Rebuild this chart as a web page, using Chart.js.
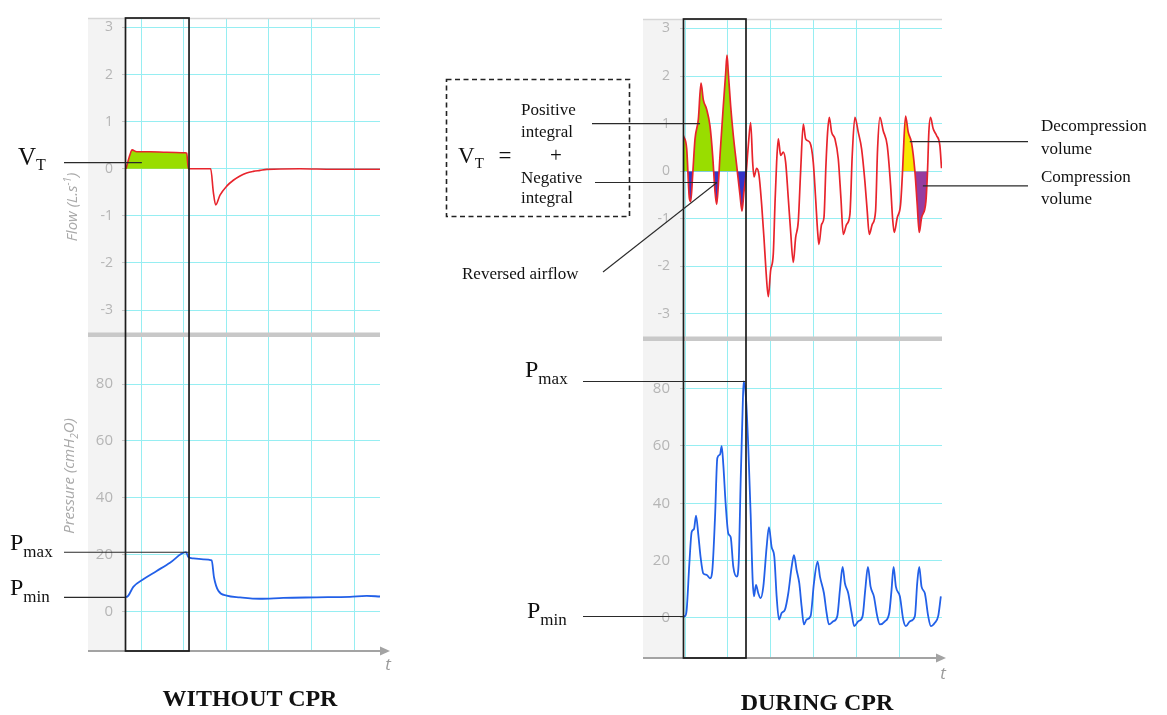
<!DOCTYPE html>
<html><head><meta charset="utf-8">
<script src="https://cdn.jsdelivr.net/npm/chart.js@4.4.0/dist/chart.umd.min.js"></script>
<style>
html,body{margin:0;padding:0;background:#fff;}
body{width:1167px;height:715px;position:relative;overflow:hidden;}
canvas{position:absolute;}
.t{position:absolute;font-family:'Liberation Serif','Times New Roman',serif;color:#111;white-space:nowrap;line-height:1;transform:translateY(-50%);}
.c{transform:translate(-50%,-50%);}
.t .s{position:relative;}
.b{font-weight:bold;}
.yt{position:absolute;transform:translate(-50%,-50%) rotate(-90deg);font-family:'Open Sans',sans-serif;font-style:italic;font-size:15px;color:#a9a9a9;white-space:nowrap;line-height:1;}
.yt sup,.yt sub{font-size:10px;}
.tt{position:absolute;transform:translate(-50%,-50%);font-family:'Open Sans',sans-serif;font-style:italic;font-size:17px;color:#9a9a9a;line-height:1;}
svg{position:absolute;left:0;top:0;}
</style></head><body>
<canvas id="cl" width="400" height="672" style="left:0;top:0"></canvas>
<canvas id="cr" width="607" height="680" style="left:560px;top:0"></canvas>

<svg width="1167" height="715"><rect x="446.5" y="79.5" width="183" height="137" fill="none" stroke="#222" stroke-width="1.6" stroke-dasharray="5,3.5"/></svg>

<!-- left panel texts -->
<div class="yt" style="left:70px;top:207px">Flow (L.s<sup>-1</sup>)</div>
<div class="yt" style="left:70px;top:476px">Pressure (cmH<sub>2</sub>O)</div>
<div class="t" style="left:18px;top:156px;font-size:25px">V<span class="s" style="font-size:16px;top:0.3em">T</span></div>
<div class="t" style="left:10px;top:542px;font-size:24px">P<span class="s" style="font-size:17px;top:0.4em">max</span></div>
<div class="t" style="left:10px;top:587px;font-size:24px">P<span class="s" style="font-size:17px;top:0.4em">min</span></div>
<div class="t c b" style="left:250px;top:698px;font-size:24px">WITHOUT CPR</div>
<div class="tt" style="left:388px;top:663px">t</div>

<!-- right panel texts -->
<div class="t" style="left:525px;top:369px;font-size:24px">P<span class="s" style="font-size:17px;top:0.4em">max</span></div>
<div class="t" style="left:527px;top:610px;font-size:24px">P<span class="s" style="font-size:17px;top:0.4em">min</span></div>
<div class="t" style="left:458px;top:155px;font-size:23px">V<span class="s" style="font-size:15px;top:0.35em">T</span></div>
<div class="t c" style="left:505px;top:155px;font-size:23px">=</div>
<div class="t" style="left:521px;top:109px;font-size:17px">Positive</div>
<div class="t" style="left:521px;top:131px;font-size:17px">integral</div>
<div class="t c" style="left:556px;top:155px;font-size:21px">+</div>
<div class="t" style="left:521px;top:177px;font-size:17px">Negative</div>
<div class="t" style="left:521px;top:197px;font-size:17px">integral</div>
<div class="t" style="left:462px;top:273px;font-size:17px">Reversed airflow</div>
<div class="t" style="left:1041px;top:125px;font-size:17px">Decompression</div>
<div class="t" style="left:1041px;top:148px;font-size:17px">volume</div>
<div class="t" style="left:1041px;top:176px;font-size:17px">Compression</div>
<div class="t" style="left:1041px;top:198px;font-size:17px">volume</div>
<div class="t c b" style="left:817px;top:702px;font-size:24px">DURING CPR</div>
<div class="tt" style="left:943px;top:672px">t</div>

<script>
// ---------- data (time in grid units, flow in L/s, pressure in cmH2O) ----------
const leftFlowT = [0.648,0.742,0.790,0.899,1.211,1.603,2.033,2.072,2.111,2.385,2.636,2.697,2.753,2.854,3.011,3.167,3.324,3.480,3.636,3.793,3.950,4.732,5.514,6.610];
const leftFlowV = [0,0.30,0.40,0.36,0.36,0.35,0.34,0.33,0,0,0,-0.49,-0.77,-0.56,-0.37,-0.245,-0.154,-0.09,-0.056,-0.035,-0.014,0,-0.01,-0.01];

const leftPressT = [0.648,0.702,0.819,1.054,1.368,1.681,2.056,2.111,2.228,2.463,2.659,2.714,2.815,3.011,3.324,3.793,4.341,5.124,5.906,6.298,6.610];
const leftPressV = [4.9,5.5,8.6,11.3,14.2,17.1,20.8,19.1,18.6,18.3,17.9,11.9,7.2,5.5,4.9,4.4,4.7,4.9,5.1,5.4,5.2];

const rightFlowT = [-0.039,0.039,0.101,0.132,0.178,0.233,0.310,0.372,0.426,0.504,0.581,0.643,0.698,0.736,0.775,0.814,0.891,0.946,0.977,1.008,1.062,1.124,1.202,1.279,1.326,1.372,1.419,1.473,1.527,1.574,1.605,1.667,1.721,1.783,1.837,1.884,1.938,1.992,2.054,2.093,2.132,2.171,2.225,2.287,2.341,2.403,2.457,2.519,2.574,2.636,2.690,2.752,2.806,2.907,2.984,3.039,3.085,3.116,3.178,3.233,3.279,3.318,3.357,3.411,3.488,3.566,3.628,3.682,3.760,3.837,3.891,3.953,4.031,4.109,4.186,4.240,4.287,4.357,4.434,4.481,4.535,4.612,4.705,4.783,4.829,4.868,4.938,5.016,5.062,5.078,5.132,5.194,5.271,5.349,5.403,5.450,5.504,5.605,5.643,5.674,5.713,5.775,5.853,5.930,5.969];
const rightFlowV = [0.75,0.47,-0.57,-0.64,-0.08,0.68,1.09,1.85,1.5,1.3,0.95,0.33,-0.43,-0.7,-0.29,0.33,1.37,2.06,2.44,2.06,1.37,0.75,0.12,-0.5,-0.84,-0.43,-0.08,0.54,1.02,0.19,-0.12,0.06,-0.08,-0.7,-1.4,-2.09,-2.64,-2.09,-1.74,-0.7,0.19,0.68,0.33,0.4,0.19,-0.57,-1.26,-1.92,-1.4,-1.05,-0.01,0.99,0.68,0.6,0.19,-0.57,-1.26,-1.54,-1.12,-0.98,0.12,0.82,1.13,0.82,0.68,0.26,-0.57,-1.33,-1.12,-0.91,0.33,1.13,0.82,0.47,-0.22,-0.84,-1.33,-1.12,-0.84,0.47,1.13,0.85,0.54,-0.29,-0.98,-1.29,-0.98,-0.7,0,0.33,1.16,0.82,0.6,0,-0.7,-1.29,-0.98,-0.64,0,0.82,1.13,0.89,0.75,0.54,0.06];

const rightPressT = [-0.039,0,0.039,0.101,0.155,0.209,0.256,0.310,0.364,0.426,0.504,0.581,0.636,0.698,0.752,0.814,0.853,0.891,0.946,1.008,1.062,1.124,1.202,1.248,1.295,1.341,1.364,1.419,1.473,1.527,1.574,1.605,1.651,1.705,1.760,1.822,1.899,1.953,2.016,2.078,2.132,2.186,2.248,2.326,2.403,2.481,2.535,2.597,2.659,2.713,2.767,2.829,2.922,3.000,3.085,3.140,3.233,3.295,3.349,3.450,3.543,3.605,3.667,3.721,3.798,3.876,3.938,4.031,4.132,4.194,4.256,4.318,4.395,4.473,4.535,4.651,4.752,4.806,4.853,4.907,5.000,5.078,5.140,5.233,5.349,5.403,5.450,5.504,5.581,5.659,5.721,5.814,5.891,5.953];
const rightPressV = [0.5,0.6,2.9,19,30,31,35.7,29,21,15.5,15,13.8,16.7,35,55.8,57,59.9,53.5,39.7,29.4,28.2,17.8,14.4,19,47.8,73,82.5,76.5,59.3,36.3,13.2,7.5,11.5,8.6,6.9,10.9,24.7,31.7,24.7,21.3,7.5,-0.6,1.7,2.9,8.6,17.8,21.9,16.7,12.1,4,-2.3,-0.6,0.6,12.1,19.6,14.4,8.6,1.7,-2.3,-1.2,0.6,9.8,17.8,12.1,8.6,1.7,-2.9,-1.2,0.6,9.8,17.8,10.9,7.5,0.6,-2.3,-1.2,1.7,9.8,17.8,10.9,7.5,-0.6,-2.9,-1.2,0.6,12.1,17.8,10.9,8.6,0.6,-2.9,-1.7,0.6,7.5];

// axis ranges / ticks
const flowRange = [-3.52, 3.2], flowStep = 1;
const pressRange = [-14, 97.5], pressStep = 20;
const leftTimeRange = [0.624, 6.61], rightTimeRange = [-0.047, 5.98];
// highlighted windows (time)
const leftWindowEnd = 2.127, rightWindowEnd = 1.419;
const cycleWindow = [5.062, 5.643];

// ---------- helpers ----------
const GRID = 'rgb(150,238,242)';
const TICK = '#b5b5b5';
Chart.defaults.font.family = "'Open Sans', sans-serif";

function pts(T, V) { const n = Math.min(T.length, V.length), a = []; for (let i = 0; i < n; i++) a.push({x: T[i], y: V[i]}); return a; }
function within(T, V, lo, hi) { return pts(T, V).filter(p => p.x >= lo - 1e-9 && p.x <= hi + 1e-9); }

function scalesCfg(tr, yw, pad) {
  const g = {color: GRID, lineWidth: 1, drawTicks: true, tickLength: 3, tickColor: '#c8c8c8'};
  return {
    x: {type: 'linear', min: tr[0], max: tr[1], ticks: {display: false, stepSize: 1, includeBounds: false},
        grid: {color: GRID, lineWidth: 1, drawTicks: false}, border: {display: false}, afterFit: s => { s.height = 0; }},
    yPress: {type: 'linear', position: 'left', stack: 'v', stackWeight: 1, min: pressRange[0], max: pressRange[1],
        ticks: {stepSize: pressStep, includeBounds: false, color: TICK, font: {size: 15}, padding: pad},
        grid: g, border: {display: false}, afterFit: s => { s.width = yw; }},
    yFlow: {type: 'linear', position: 'left', stack: 'v', stackWeight: 1, min: flowRange[0], max: flowRange[1],
        ticks: {stepSize: flowStep, includeBounds: false, color: TICK, font: {size: 14}, padding: pad},
        grid: g, border: {display: false}, afterFit: s => { s.width = yw; }}
  };
}

function makeDecor(cfg) {
  return {
    id: 'decor',
    beforeDraw(chart) {
      const {ctx, chartArea: a} = chart;
      ctx.save();
      ctx.fillStyle = '#f3f3f3';
      ctx.fillRect(cfg.bandLeft, a.top, a.left - cfg.bandLeft, a.bottom - a.top);
      ctx.restore();
    },
    afterDraw(chart) {
      const {ctx, chartArea: a, scales} = chart;
      const X = scales.x;
      ctx.save();
      ctx.strokeStyle = '#d6d6d6'; ctx.lineWidth = 1.5;
      ctx.beginPath(); ctx.moveTo(cfg.bandLeft, a.top + 0.5); ctx.lineTo(a.right, a.top + 0.5); ctx.stroke();
      ctx.fillStyle = '#c8c8c8';
      ctx.fillRect(cfg.bandLeft, scales.yFlow.bottom - 2, a.right - cfg.bandLeft, 4.5);
      ctx.strokeStyle = '#a3a3a3'; ctx.fillStyle = '#a3a3a3'; ctx.lineWidth = 2;
      const tip = a.right + cfg.arrowExt;
      ctx.beginPath(); ctx.moveTo(cfg.bandLeft, a.bottom); ctx.lineTo(tip - 6, a.bottom); ctx.stroke();
      ctx.beginPath(); ctx.moveTo(tip, a.bottom); ctx.lineTo(tip - 10, a.bottom - 4.5); ctx.lineTo(tip - 10, a.bottom + 4.5); ctx.closePath(); ctx.fill();
      ctx.strokeStyle = '#1c1c1c'; ctx.lineWidth = 1.7;
      const xr = X.getPixelForValue(cfg.windowEnd);
      ctx.strokeRect(a.left + 0.5, a.top, xr - a.left - 0.5, a.bottom - a.top);
      ctx.strokeStyle = '#2a2a2a'; ctx.lineWidth = 1.1;
      cfg.lines.forEach(l => {
        const px = X.getPixelForValue(l.t), py = scales[l.axis].getPixelForValue(l.v);
        const qy = (l.py !== undefined) ? l.py : py;
        ctx.beginPath(); ctx.moveTo(l.px, qy); ctx.lineTo(px, py); ctx.stroke();
      });
      ctx.restore();
    }
  };
}

function lineDs(data, axis, color, w) {
  return {data, yAxisID: axis, borderColor: color, borderWidth: w, pointRadius: 0, fill: false, cubicInterpolationMode: 'monotone'};
}
function fillDs(data, above, below) {
  return {data, yAxisID: 'yFlow', borderColor: 'rgba(0,0,0,0)', borderWidth: 0, pointRadius: 0, cubicInterpolationMode: 'monotone',
          fill: {target: 'origin', above, below}};
}

const baseOpts = (tr, yw, pad, padding) => ({
  responsive: false, animation: false, devicePixelRatio: 1,
  layout: {padding},
  plugins: {legend: {display: false}, tooltip: {enabled: false}},
  scales: scalesCfg(tr, yw, pad)
});

const RED = 'rgb(232,36,44)', BLUE = 'rgb(34,96,232)';
const GREEN = 'rgb(153,221,0)', NAVY = 'rgb(52,52,200)', YELLOW = 'rgb(248,232,0)', PURPLE = 'rgb(150,60,160)';

// ---------- left panel: without CPR ----------
new Chart(document.getElementById('cl'), {
  type: 'line',
  data: {datasets: [
    lineDs(pts(leftFlowT, leftFlowV), 'yFlow', RED, 1.6),
    lineDs(pts(leftPressT, leftPressV), 'yPress', BLUE, 1.8),
    fillDs(within(leftFlowT, leftFlowV, leftTimeRange[0], leftWindowEnd), GREEN, GREEN)
  ]},
  options: baseOpts(leftTimeRange, 125, 9, {top: 12, right: 20, bottom: 21, left: 0}),
  plugins: [makeDecor({
    bandLeft: 88, arrowExt: 10, windowEnd: leftWindowEnd,
    lines: [
      {px: 64, t: 1.02, v: 0.13, axis: 'yFlow'},
      {px: 64, t: leftWindowEnd, v: Math.max(...leftPressV), axis: 'yPress'},
      {px: 64, t: leftTimeRange[0], v: leftPressV[0], axis: 'yPress'}
    ]
  })]
});

// ---------- right panel: during CPR ----------
new Chart(document.getElementById('cr'), {
  type: 'line',
  data: {datasets: [
    lineDs(pts(rightFlowT, rightFlowV), 'yFlow', RED, 1.7),
    lineDs(pts(rightPressT, rightPressV), 'yPress', BLUE, 1.8),
    fillDs(within(rightFlowT, rightFlowV, rightTimeRange[0], rightWindowEnd), GREEN, NAVY),
    fillDs(within(rightFlowT, rightFlowV, cycleWindow[0], cycleWindow[1]), YELLOW, PURPLE)
  ]},
  options: baseOpts(rightTimeRange, 123, 10, {top: 13, right: 225, bottom: 22, left: 0}),
  plugins: [makeDecor({
    bandLeft: 83, arrowExt: 4, windowEnd: rightWindowEnd,
    lines: [
      {px: 32, t: 0.35, v: 1.0, axis: 'yFlow'},
      {px: 35, t: 0.744, v: -0.24, axis: 'yFlow'},
      {px: 43, py: 272, t: 0.744, v: -0.24, axis: 'yFlow'},
      {px: 468, t: 5.23, v: 0.62, axis: 'yFlow'},
      {px: 468, t: 5.535, v: -0.31, axis: 'yFlow'},
      {px: 23, t: rightWindowEnd, v: Math.max(...rightPressV), axis: 'yPress'},
      {px: 23, t: rightTimeRange[0], v: rightPressV[0], axis: 'yPress'}
    ]
  })]
});
</script>
</body></html>
